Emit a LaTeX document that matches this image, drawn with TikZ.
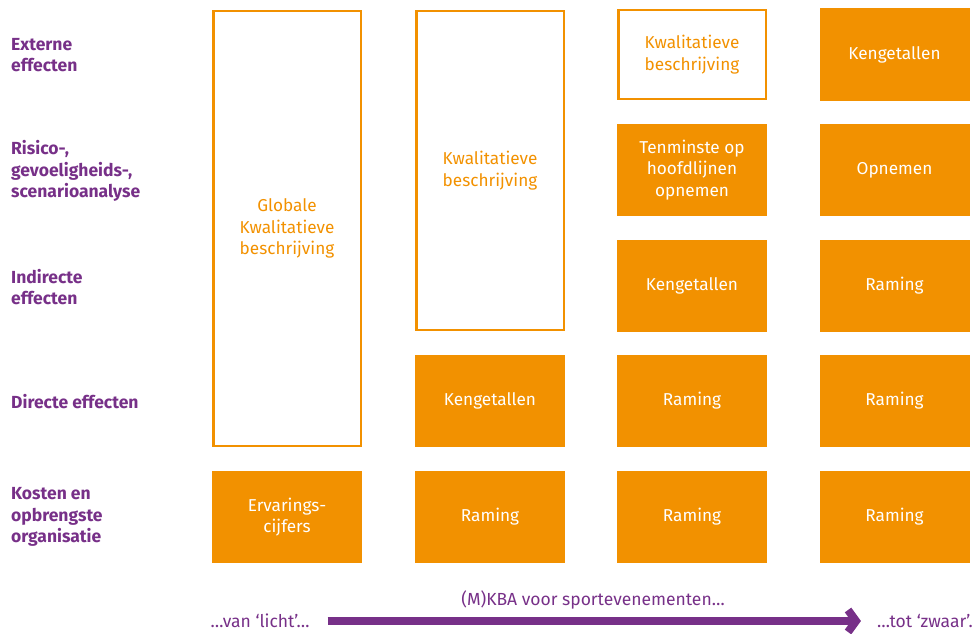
\documentclass[tikz,border=0pt]{standalone}
\usepackage{fontspec}
\setmainfont{Fira Sans}
\usetikzlibrary{arrows.meta}
\definecolor{oranje}{HTML}{F29100}
\definecolor{paars}{HTML}{773088}
\begin{document}
\begin{tikzpicture}[x=1pt,y=-1pt,
    vol/.style={fill=oranje,text=white,minimum width=150pt,minimum height=92pt,
      align=center,inner sep=0pt,font=\fontsize{17.2}{21.5}\selectfont},
    leeg/.style={draw=oranje,line width=2.5pt,text=oranje,minimum width=147.5pt,
      align=center,inner sep=0pt,font=\fontsize{17.2}{21.5}\selectfont},
    rij/.style={text=paars,font=\bfseries\fontsize{17.5}{21.5}\selectfont,
      align=left,anchor=west,inner sep=0pt},
    onder/.style={text=paars,font=\fontsize{17.5}{20}\selectfont,inner sep=0pt}]
  \useasboundingbox (0,0) rectangle (972,634);
  % rijen
  \node[rij] (ext) at (11,55) {Externe\\effecten};
  \node[rij] (risico) at (11,171) {Risico-,\\gevoeligheids-,\\scenarioanalyse};
  \node[rij] (indir) at (11,287) {Indirecte\\effecten};
  \node[rij] (dir) at (11,402) {Directe effecten};
  \node[rij] (kosten) at (11,517) {Kosten en\\opbrengste\\organisatie};
  % kolom 1
  \node[leeg,minimum height=435pt] (glob) at (287,228.5) {Globale\\Kwalitatieve\\beschrijving};
  \node[vol] (erv) at (287,517) {Ervarings-\\cijfers};
  % kolom 2
  \node[leeg,minimum height=319pt] (kwal2) at (490,170.5) {Kwalitatieve\\beschrijving};
  \node[vol] (keng2) at (490,401) {Kengetallen};
  % kolom 3
  \node[leeg,minimum height=89pt] (kwal3) at (692,54.5) {Kwalitatieve\\beschrijving};
  \node[vol] (hoofd3) at (692,170) {Tenminste op\\hoofdlijnen\\opnemen};
  \node[vol] (keng3) at (692,285.5) {Kengetallen};
  \node[vol] (ramd3) at (692,401) {Raming};
  % kolom 4
  \node[vol] (keng4) at (894.5,54.5) {Kengetallen};
  \node[vol] (opn4) at (894.5,170) {Opnemen};
  \node[vol] (rami4) at (894.5,285.5) {Raming};
  \node[vol] (ramd4) at (894.5,401) {Raming};
  \foreach \x/\k in {490/2,692/3,894.5/4}
    \node[vol] (ramk\k) at (\x,517) {Raming};
  % as
  \node[onder] (titel) at (593,600) {(M)KBA voor sportevenementen…};
  \node[onder] (licht) at (260,621) {…van ‘licht’…};
  \node[onder,anchor=east] (zwaar) at (973,621) {…tot ‘zwaar’.};
  \draw[paars,line width=8pt,-{Straight Barb[length=8pt,width=22pt]}]
    ([xshift=18pt]licht.east) -- ([xshift=-16pt]zwaar.west);
\end{tikzpicture}
\end{document}
